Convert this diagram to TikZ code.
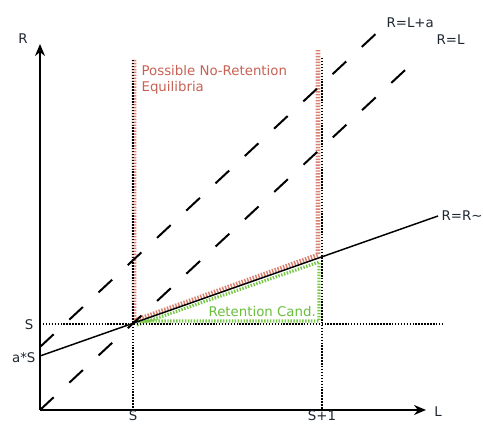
\documentclass[tikz,border=0pt]{standalone}
\usepackage{fontspec}
\setmainfont{DejaVu Sans}
\usetikzlibrary{arrows.meta,calc}
\definecolor{noret}{RGB}{218,128,112}
\definecolor{noretText}{RGB}{200,96,84}
\definecolor{cand}{RGB}{120,200,70}
\definecolor{candText}{RGB}{105,190,60}
\definecolor{ink}{RGB}{30,38,48}

\begin{document}
\begin{tikzpicture}[x=0.75pt,y=0.75pt,
    lbl/.style={font=\fontsize{10}{12}\selectfont, inner sep=1pt, text=ink},
    axis/.style={line width=1.3pt, -{Stealth[length=9pt,width=7.5pt]}},
    guide/.style={line width=1.5pt, dash pattern=on 1.1pt off 1.1pt},
    diag/.style={line width=1.5pt, dash pattern=on 14pt off 16pt},
    curve/.style={line width=1.1pt},
    region/.style={line width=3.6pt, dash pattern=on 1.1pt off 1.1pt, color=noret},
    candregion/.style={line width=2.4pt, dash pattern=on 1.1pt off 1.1pt, color=cand}]
    \useasboundingbox (0,0) rectangle (483,424);

    % points
    \coordinate (o) at (40,14);
    \coordinate (rtop) at (40,380);
    \coordinate (lend) at (426,14);
    \coordinate (ss) at (133,100);
    \coordinate (as) at (40,68);
    \coordinate (rrend) at (438,208);
    \coordinate (rleq) at (417,365);
    \coordinate (ra) at (40,77);
    \coordinate (raend) at (381,395);
    \coordinate (stop) at (133,364);
    \coordinate (sbot) at (133,12);
    \coordinate (sitop) at (322,366);
    \coordinate (sibot) at (322,12);
    \coordinate (hleft) at (40,100);
    \coordinate (hright) at (443,100);

    % shaded sets
    \draw[region] (134,364) -- (134,103) -- (318,169) -- (318,375);
    \draw[candregion] (137,99) -- (319,162) -- (319,103) -- (137,103);

    % guides
    \draw[guide] (stop) -- (sbot);
    \draw[guide] (sitop) -- (sibot);
    \draw[guide] (hleft) -- (hright);

    % lines
    \draw[diag] (o) -- (rleq);
    \draw[diag] (ra) -- (raend);
    \draw[curve] (as) -- (rrend);

    % axes
    \draw[axis] (o) -- (rtop);
    \draw[axis] (o) -- (lend);

    % labels
    \node[lbl] (rlab) at (23,385) {R};
    \node[lbl] (llab) at (438,12) {L};
    \node[lbl, anchor=east] (sy) at (35,99) {S};
    \node[lbl, anchor=east] (asy) at (37,66) {a*S};
    \node[lbl, anchor=base] (sx) at (133,3) {S};
    \node[lbl, anchor=base] (six) at (322,3) {S+1};
    \node[lbl, anchor=west] (ralab) at (385,401) {R=L+a};
    \node[lbl, anchor=west] (rllab) at (435,384) {R=L};
    \node[lbl, anchor=west] (rrlab) at (440,208) {R=R\textasciitilde};
    \node[lbl, anchor=west, align=left, text=noretText] (noretlab) at (140,344)
        {Possible No-Retention\\Equilibria};
    \node[lbl, anchor=west, text=candText] (candlab) at (207,112) {Retention Cand.};
\end{tikzpicture}
\end{document}
